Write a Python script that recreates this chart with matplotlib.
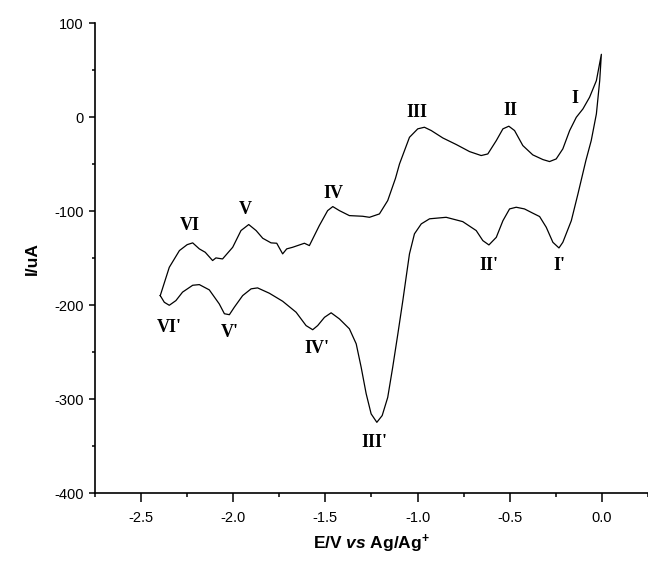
import matplotlib
matplotlib.use("Agg")
import matplotlib.pyplot as plt
from matplotlib.ticker import MultipleLocator

# anodic (upper) branch, left vertex -> right vertex
E_up = [-2.396, -2.347, -2.292, -2.250, -2.220, -2.184, -2.152, -2.112, -2.094, -2.058,
        -2.003, -1.958, -1.916, -1.876, -1.840, -1.795, -1.764, -1.750, -1.732, -1.710,
        -1.678, -1.614, -1.587, -1.533, -1.488, -1.460, -1.424, -1.370, -1.298, -1.261,
        -1.207, -1.162, -1.120, -1.098, -1.044, -0.999, -0.963, -0.926, -0.863, -0.790,
        -0.718, -0.655, -0.619, -0.573, -0.537, -0.505, -0.474, -0.429, -0.375, -0.320,
        -0.284, -0.248, -0.212, -0.175, -0.139, -0.103, -0.067, -0.030, -0.003]
I_up = [-189.7, -159.6, -141.8, -135.5, -133.6, -140.0, -143.6, -152.4, -149.6, -150.7,
        -138.3, -120.5, -114.1, -120.5, -128.7, -133.6, -134.0, -139.0, -145.3, -140.0,
        -138.3, -134.0, -136.5, -115.2, -99.3, -95.0, -99.3, -104.6, -105.3, -106.4,
        -102.8, -88.6, -65.0, -49.6, -21.3, -12.3, -10.6, -14.1, -22.0, -29.0,
        -36.5, -40.7, -39.0, -24.8, -12.3, -9.5, -14.1, -30.1, -40.0, -45.0,
        -47.1, -44.3, -33.6, -14.1, 0.0, 8.9, 21.3, 39.0, 67.0]

# cathodic (lower) branch, right vertex -> left vertex
E_down = [-0.012, -0.030, -0.058, -0.087, -0.130, -0.166, -0.212, -0.233, -0.266, -0.302,
          -0.338, -0.375, -0.420, -0.465, -0.501, -0.537, -0.573, -0.613, -0.646, -0.682,
          -0.755, -0.845, -0.935, -0.980, -1.017, -1.044, -1.062, -1.080, -1.107, -1.135,
          -1.162, -1.192, -1.221, -1.252, -1.279, -1.306, -1.333, -1.370, -1.424, -1.469,
          -1.505, -1.542, -1.569, -1.605, -1.659, -1.732, -1.804, -1.868, -1.903, -1.949,
          -1.994, -2.021, -2.048, -2.076, -2.130, -2.184, -2.220, -2.275, -2.311, -2.347,
          -2.374, -2.396]
I_down = [39.0, 3.6, -24.8, -46.0, -81.5, -110.0, -133.0, -139.0, -133.0, -117.0,
          -105.6, -102.0, -97.5, -95.7, -97.5, -110.0, -127.7, -135.8, -131.2, -120.5,
          -111.0, -106.4, -108.0, -113.4, -124.0, -145.3, -170.0, -195.0, -230.4, -266.0,
          -298.0, -317.3, -324.5, -315.5, -294.0, -266.0, -241.0, -225.0, -214.5, -208.0,
          -212.8, -221.6, -226.0, -221.6, -207.4, -195.7, -187.2, -181.5, -182.5, -189.7,
          -202.0, -210.0, -209.0, -198.5, -183.6, -178.0, -178.7, -186.0, -195.0, -200.0,
          -196.8, -189.7]

peak_labels = ["VI", "V", "IV", "III", "II", "I", "VI'", "V'", "IV'", "III'", "II'", "I'"]
peak_E = [-2.238, -1.936, -1.457, -1.002, -0.494, -0.148, -2.347, -2.017, -1.547, -1.234, -0.613, -0.230]
peak_I = [-115, -98.5, -81.5, 4.7, 7.1, 20.2, -223.4, -228.7, -246.4, -345.7, -157.8, -157.8]

plt.rcParams['font.family'] = 'Liberation Sans'
plt.rcParams['mathtext.fontset'] = 'custom'
plt.rcParams['mathtext.rm'] = 'Liberation Sans:bold'
plt.rcParams['mathtext.it'] = 'Liberation Sans:italic:bold'
plt.rcParams['mathtext.bf'] = 'Liberation Sans:bold'

fig = plt.figure(figsize=(6.48, 5.61), dpi=100)
ax = fig.add_axes([0.1466, 0.1207, 0.8534, 0.8378])

ax.plot(E_up + E_down, I_up + I_down, color='black', lw=0.9)

for lab, x, y in zip(peak_labels, peak_E, peak_I):
    ax.text(x, y, lab, fontsize=13, fontweight='bold', family='Liberation Serif',
            ha='center', va='center')

ax.set_xlim(-2.75, 0.25)
ax.set_ylim(-400, 100)
ax.xaxis.set_minor_locator(MultipleLocator(0.25))
ax.yaxis.set_minor_locator(MultipleLocator(50))
ax.set_xticks([-2.5, -2.0, -1.5, -1.0, -0.5, 0.0])
ax.set_xticklabels(['-2.5', '-2.0', '-1.5', '-1.0', '-0.5', '0.0'])
ax.set_yticks([-400, -300, -200, -100, 0, 100])
ax.set_yticklabels(['-400', '-300', '-200', '-100', '0', '100'])

ax.spines['top'].set_visible(False)
ax.spines['right'].set_visible(False)
ax.spines['left'].set_linewidth(1.2)
ax.spines['bottom'].set_linewidth(1.2)
ax.tick_params(which='both', direction='out', width=1.1, labelsize=10.5)
ax.tick_params(axis='x', which='major', length=6.5, pad=6)
ax.tick_params(axis='x', which='minor', length=3)
ax.tick_params(axis='y', which='major', length=4.3, pad=4)
ax.tick_params(axis='y', which='minor', length=2.2)

ax.set_xlabel(r'E/V $\it{vs}$ Ag/Ag$^{\mathrm{+}}$', fontsize=12.5, fontweight='bold', labelpad=6)
ax.set_ylabel('I/uA', fontsize=12.5, fontweight='bold', labelpad=10)

fig.savefig('out.png', dpi=100)
